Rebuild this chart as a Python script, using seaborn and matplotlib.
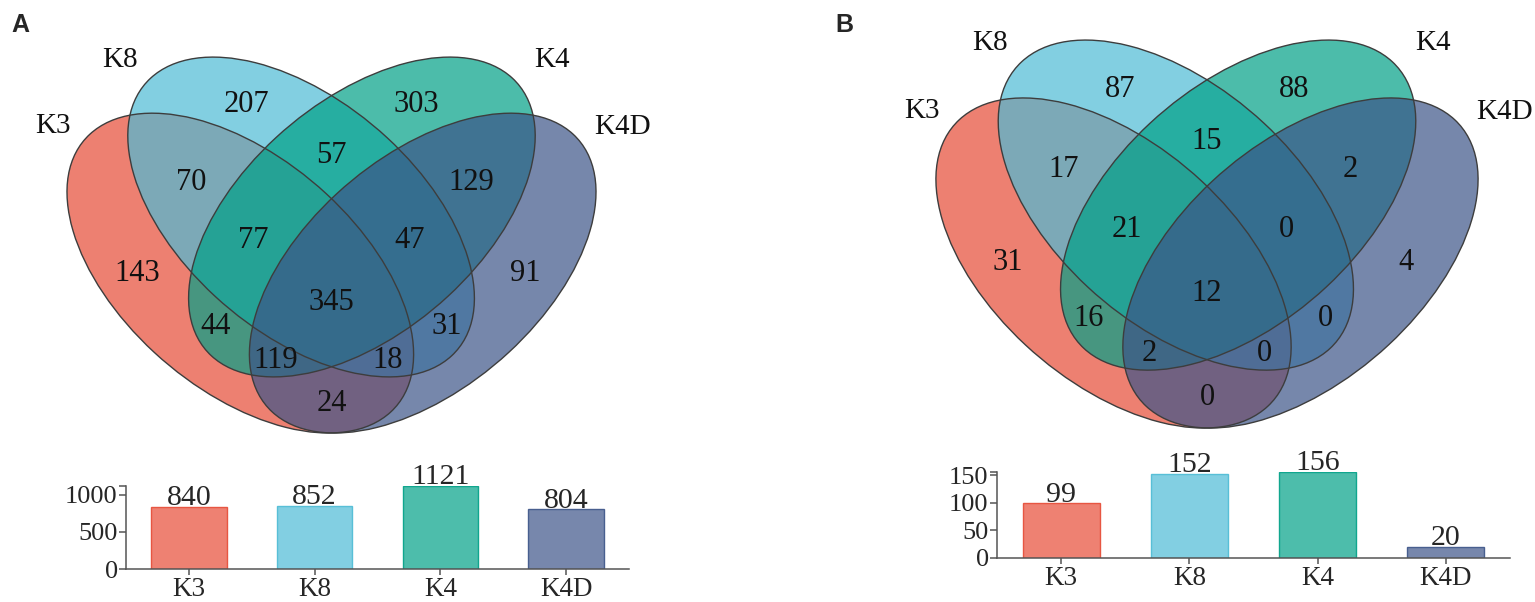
import numpy as np
import pandas as pd
import matplotlib
matplotlib.use('Agg')
import matplotlib.pyplot as plt
import seaborn as sns
from matplotlib.patches import Ellipse

sns.set_style('white')
plt.rcParams['font.family'] = ['Liberation Serif', 'DejaVu Serif']

# ---- data ----
sets = ['K3', 'K8', 'K4', 'K4D']
base_colors = ['#E64B35', '#4DBBD5', '#00A087', '#3C5488']

# venn regions (fixed order, matches label layout below)
region_names = ['K3', 'K8', 'K4', 'K4D',
                'K3&K8', 'K8&K4', 'K4&K4D', 'K3&K4', 'K8&K4D', 'K3&K4D',
                'K3&K8&K4', 'K8&K4&K4D', 'K3&K4&K4D', 'K3&K8&K4D', 'all']
counts_a = [143, 207, 303, 91, 70, 57, 129, 44, 31, 24, 77, 47, 119, 18, 345]
counts_b = [31, 87, 88, 4, 17, 15, 2, 16, 0, 0, 21, 0, 2, 0, 12]

totals_a = [840, 852, 1121, 804]
totals_b = [99, 152, 156, 20]
yticks_a = [0, 500, 1000]
yticks_b = [0, 50, 100, 150]

# ---- layout (VennDiagram-style quad layout, unit square) ----
ell_centers = [(0.35, 0.47), (0.45, 0.57), (0.55, 0.57), (0.65, 0.47)]
ell_angles = [-45, -45, 45, 45]
ell_w, ell_h = 0.70, 0.40
label_pos = [(0.181, 0.47), (0.36, 0.77), (0.64, 0.77), (0.819, 0.47),
             (0.27, 0.632), (0.5, 0.68), (0.73, 0.632), (0.31, 0.375),
             (0.69, 0.375), (0.5, 0.237), (0.372, 0.528), (0.628, 0.528),
             (0.408, 0.314), (0.592, 0.314), (0.5, 0.418)]
cat_pos = [(0.042, 0.732), (0.152, 0.85), (0.862, 0.85), (0.978, 0.73)]

W, H = 1535, 602
ALPHA = 0.7


def blend(hex_color, alpha=ALPHA):
    rgb = np.array(matplotlib.colors.to_rgb(hex_color))
    return tuple(alpha * rgb + (1 - alpha))


def px_axes(fig, x0, y0, x1, y1):
    return fig.add_axes([x0 / W, 1 - y1 / H, (x1 - x0) / W, (y1 - y0) / H])


def draw_venn(ax, counts):
    for (cx, cy), ang, col in zip(ell_centers, ell_angles, base_colors):
        ax.add_patch(Ellipse((cx, cy), ell_w, ell_h, angle=ang,
                             facecolor=col, alpha=ALPHA, edgecolor='none'))
    for (cx, cy), ang in zip(ell_centers, ell_angles):
        ax.add_patch(Ellipse((cx, cy), ell_w, ell_h, angle=ang,
                             facecolor='none', edgecolor='#3d3d3d', lw=1.0,
                             clip_on=False))
    for (x, y), n in zip(label_pos, counts):
        ax.text(x, y, str(n), ha='center', va='center', fontsize=22, color='#111111')
    for (x, y), s in zip(cat_pos, sets):
        ax.text(x, y, s, ha='center', va='center', fontsize=21, color='#111111',
                clip_on=False)
    ax.set_xlim(0.05, 0.95)
    ax.set_ylim(0.17, 0.87)
    ax.axis('off')


def draw_bars(ax, totals, ticks):
    df = pd.DataFrame({'set': sets, 'n': totals})
    sns.barplot(data=df, x='set', y='n', hue='set', palette=[blend(c) for c in base_colors],
                saturation=1, width=0.6, linewidth=1.0, legend=False, ax=ax)
    for p, c in zip(ax.patches, base_colors):
        p.set_edgecolor(matplotlib.colors.to_rgba(c, 0.9))
    for cont in ax.containers:
        for t in ax.bar_label(cont, fontsize=21.5, padding=-3):
            t.set_clip_on(False)
    top = max(totals)
    ax.set_xlim(-0.5, 3.5)
    ax.set_ylim(0, top)
    ax.set_yticks(ticks + [top])
    ax.set_yticklabels([str(t) for t in ticks] + [''])
    ax.set_xlabel('')
    ax.set_ylabel('')
    sns.despine(ax=ax)
    for sp in ['left', 'bottom']:
        ax.spines[sp].set_color('#555555')
        ax.spines[sp].set_linewidth(1.1)
    ax.tick_params(axis='y', length=5, width=1.1, color='#555555', pad=1, labelsize=19,
                   left=True)
    ax.tick_params(axis='x', length=4.5, width=1.1, color='#555555', pad=1, labelsize=19.5,
                   bottom=True)


fig = plt.figure(figsize=(W / 100, H / 100), dpi=100)

ax_va = px_axes(fig, 57.9, 48.7, 605.1, 441.4)
draw_venn(ax_va, counts_a)
ax_vb = px_axes(fig, 926.6, 31.4, 1487.4, 436.7)
draw_venn(ax_vb, counts_b)

ax_ba = px_axes(fig, 126, 486, 629, 569)
draw_bars(ax_ba, totals_a, yticks_a)
ax_bb = px_axes(fig, 997, 472, 1510, 558)
draw_bars(ax_bb, totals_b, yticks_b)

fig.text(11 / W, 1 - 13 / H, 'A', fontsize=18, fontweight='bold', va='top', ha='left',
         family=['Liberation Sans', 'DejaVu Sans'])
fig.text(835 / W, 1 - 13 / H, 'B', fontsize=18, fontweight='bold', va='top', ha='left',
         family=['Liberation Sans', 'DejaVu Sans'])

fig.savefig('out.png', dpi=100)
